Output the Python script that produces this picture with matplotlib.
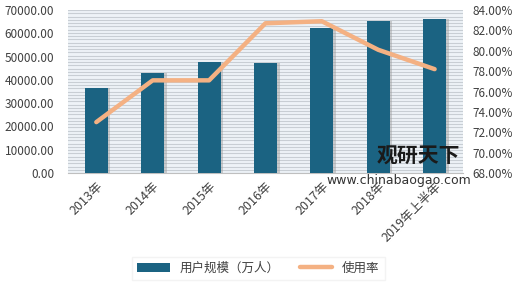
import matplotlib
matplotlib.use('Agg')
import matplotlib.pyplot as plt
import numpy as np

plt.rcParams['font.family'] = ['Noto Sans CJK SC', 'DejaVu Sans']

years = ['2013年', '2014年', '2015年', '2016年', '2017年', '2018年', '2019年上半年']
users = [36400, 43000, 47700, 47400, 62400, 65400, 66100]  # 用户规模（万人）
rate = [73.0, 77.1, 77.1, 82.7, 82.9, 80.1, 78.2]  # 使用率 %

bar_color = '#1b6382'
line_color = '#f4b183'
text_color = '#404040'

fig = plt.figure(figsize=(5.2, 2.87), dpi=100)
ax = fig.add_axes([0.131, 0.397, 0.759, 0.568])
ax2 = ax.twinx()

x = np.arange(len(years))

# striped background
ax.set_facecolor('#eef3f7')
for yy in np.arange(0, 70001, 1400):
    ax.axhline(yy, color='#c8ced4', lw=0.8, zorder=0)

# bar shadows then bars
ax.bar(x + 0.04, users, width=0.42, color='#9a9a9a', alpha=0.45, zorder=2)
ax.bar(x, users, width=0.41, color=bar_color, zorder=3, label='用户规模（万人）')

ax2.plot(x, rate, color=line_color, lw=3.2, solid_capstyle='round',
         solid_joinstyle='round', zorder=4, label='使用率')

ax.set_xlim(-0.5, 6.5)
ax.set_ylim(0, 70000)
ax2.set_ylim(68, 84)
ax.set_yticks(np.arange(0, 70001, 10000))
ax.set_yticklabels(['%.2f' % v for v in np.arange(0, 70001, 10000)])
ax2.set_yticks(np.arange(68, 84.1, 2))
ax2.set_yticklabels(['%.2f%%' % v for v in np.arange(68, 84.1, 2)])

ax.set_xticks(x)
ax.set_xticklabels(years, rotation=45, ha='right', rotation_mode='anchor')

for a in (ax, ax2):
    for s in a.spines.values():
        s.set_visible(False)
    a.tick_params(length=0, colors=text_color, labelsize=8.5)
ax.tick_params(axis='x', pad=5, labelsize=9)
ax.tick_params(axis='y', pad=10)
ax2.tick_params(axis='y', pad=7)
ax.spines['bottom'].set_visible(True)
ax.spines['bottom'].set_color('#bfbfbf')

# watermark
fig.text(0.805, 0.455, '观研天下', fontsize=15, fontweight='bold', color='#1a1a1a',
         ha='center', va='center', zorder=10)
fig.text(0.767, 0.37, 'www.chinabaogao.com', fontsize=9, color='#333333',
         ha='center', va='center', family='DejaVu Sans', zorder=10)

h1, l1 = ax.get_legend_handles_labels()
h2, l2 = ax2.get_legend_handles_labels()
leg = fig.legend(h1 + h2, l1 + l2, loc='center', bbox_to_anchor=(0.497, 0.066),
                 ncol=2, frameon=True, fontsize=9, handlelength=2.6,
                 columnspacing=1.6, fancybox=False, shadow=False)
leg.get_frame().set_edgecolor('#f0f0f0')
for t in leg.get_texts():
    t.set_color(text_color)

fig.savefig('out.png', dpi=100, facecolor='white')
